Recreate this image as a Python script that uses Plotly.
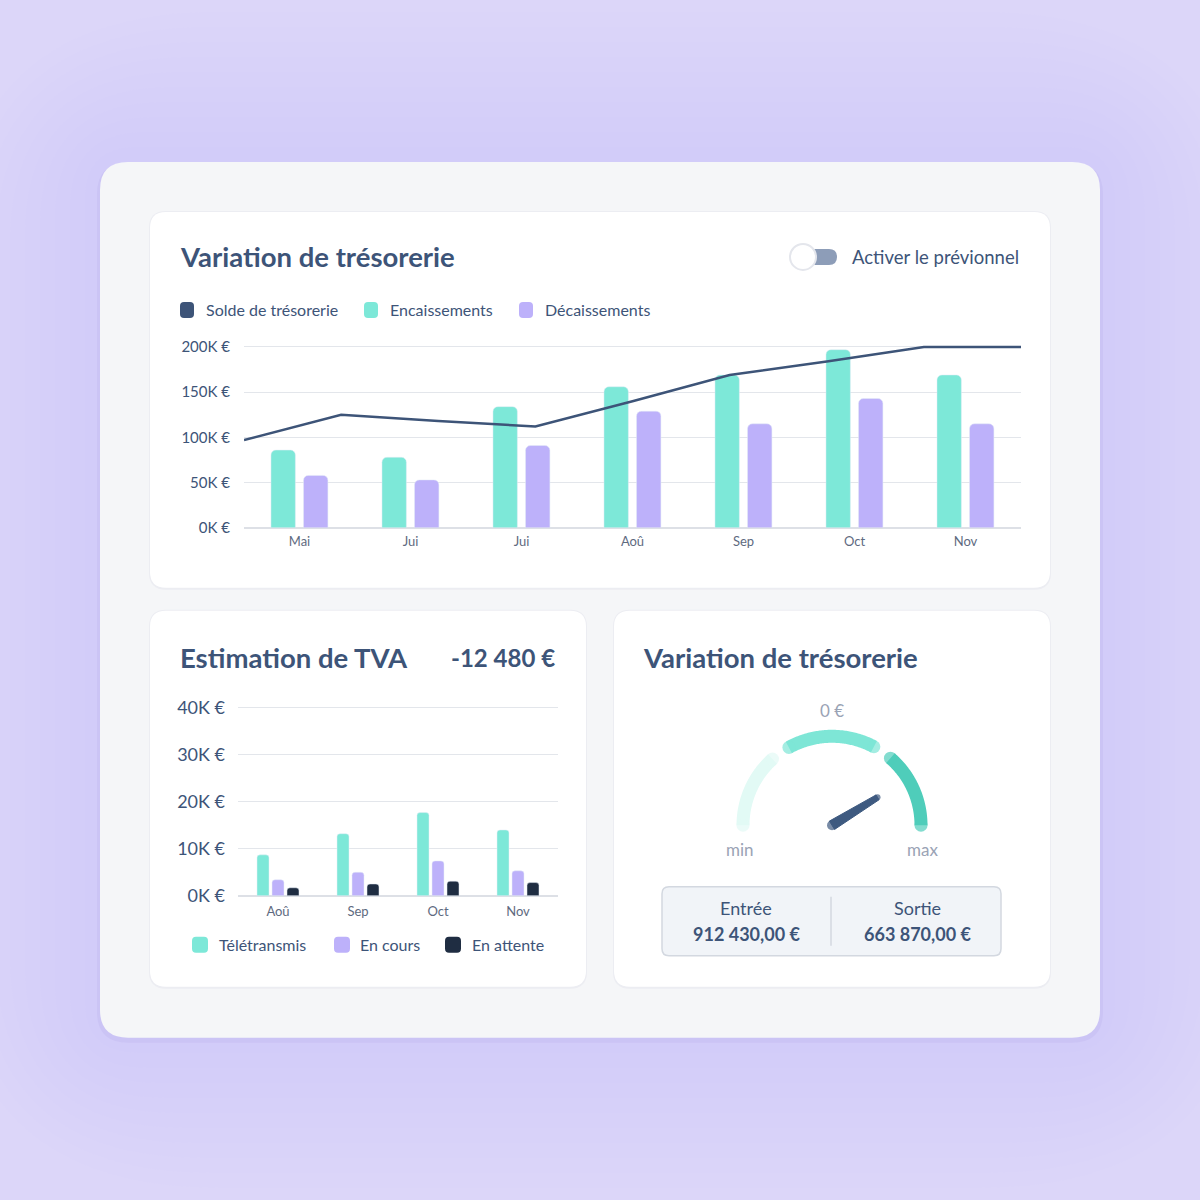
import plotly.graph_objects as go
import numpy as np

W = H = 1200

# ---------------- DATA ----------------
months1 = ["Mai", "Jui", "Jui", "Aoû", "Sep", "Oct", "Nov"]
encaissements = [86, 78, 134, 156, 169, 197, 169]      # K €
decaissements = [58, 53, 91, 129, 115, 143, 115]       # K €
solde = [97, 125, 118, 112, 140, 169, 184, 200, 200]   # K €, 9 points across the axis
y1_ticks = [0, 50, 100, 150, 200]
y1_labels = ["0K €", "50K €", "100K €", "150K €", "200K €"]

months2 = ["Aoû", "Sep", "Oct", "Nov"]
teletransmis = [8.7, 13.2, 17.7, 14.0]   # K €
en_cours = [3.4, 5.0, 7.4, 5.3]
en_attente = [1.7, 2.5, 3.1, 2.8]
y2_ticks = [0, 10, 20, 30, 40]
y2_labels = ["0K €", "10K €", "20K €", "30K €", "40K €"]

gauge_segments = [(0.0, 0.267), (0.339, 0.656), (0.728, 1.0)]  # fraction of min..max
gauge_value = 0.825
gauge_label = "0 €"
entree = "912 430,00 €"
sortie = "663 870,00 €"
tva_total = "-12 480 €"

# ---------------- STYLE ----------------
FONT = "Lato"
DARK = "#3D5478"
TEAL = "#7DE8D8"
PURPLE = "#BDB1FA"
NAVY = "#1F2D42"
GRID = "#E3E6EB"
GRAY = "#9AA3B5"

def X(x): return x / W
def Y(y): return 1 - ((y - 2) / 0.9903) / H

def rrect(x0, y0, x1, y1, r):
    return (f"M {X(x0+r)},{Y(y0)} L {X(x1-r)},{Y(y0)} Q {X(x1)},{Y(y0)} {X(x1)},{Y(y0+r)} "
            f"L {X(x1)},{Y(y1-r)} Q {X(x1)},{Y(y1)} {X(x1-r)},{Y(y1)} L {X(x0+r)},{Y(y1)} "
            f"Q {X(x0)},{Y(y1)} {X(x0)},{Y(y1-r)} L {X(x0)},{Y(y0+r)} Q {X(x0)},{Y(y0)} {X(x0+r)},{Y(y0)} Z")

shapes = []
def add_rr(x0, y0, x1, y1, r, fill, line=None, lw=0, layer="below"):
    shapes.append(dict(type="path", path=rrect(x0, y0, x1, y1, r), xref="paper", yref="paper",
                       fillcolor=fill, line=dict(color=line or fill, width=lw), layer=layer))

# soft background glow
for e in range(150, 0, -15):
    add_rr(100 - e, 162 - e, 1100 + e, 1038 + e, 28 + e * 1.6, "rgba(175,160,238,0.014)")
# outer panel shadow + panel
add_rr(97, 163, 1103, 1043, 31, "rgba(150,130,220,0.10)")
add_rr(100, 162, 1100, 1038, 28, "#F5F6F8")
# cards
for (x0, y0, x1, y1) in [(150, 212, 1050, 588), (150, 611, 586, 987), (614, 611, 1050, 987)]:
    add_rr(x0 - 1, y0 - 1, x1 + 1, y1 + 2, 17, "#ECEDF2")
    add_rr(x0, y0, x1, y1, 16, "#FFFFFF")

# toggle
add_rr(801, 249, 837, 265, 8, "#8D9DB8")
shapes.append(dict(type="circle", xref="paper", yref="paper", x0=X(789), x1=X(817), y0=Y(271), y1=Y(243),
                   fillcolor="#E4E6EC", line=dict(width=0), layer="below"))
shapes.append(dict(type="circle", xref="paper", yref="paper", x0=X(791), x1=X(815), y0=Y(269), y1=Y(245),
                   fillcolor="#FFFFFF", line=dict(width=0), layer="below"))

# legend squares chart 1
for cx, col in [(187, DARK), (371, TEAL), (526, PURPLE)]:
    add_rr(cx - 7, 302, cx + 7, 318, 4, col)
# legend squares chart 2
for cx, col in [(200, TEAL), (342, PURPLE), (453, NAVY)]:
    add_rr(cx - 8, 937, cx + 8, 953, 4, col)

# value box
add_rr(662, 887, 1001, 956, 7, "#F1F4F8", line="#D3D8E0", lw=1.5)
shapes.append(dict(type="line", xref="paper", yref="paper", x0=X(831), x1=X(831), y0=Y(897), y1=Y(946),
                   line=dict(color="#D3D8E0", width=1.5), layer="above"))

annotations = []
def txt(x, y, s, size, color=DARK, bold=False, xanchor="left"):
    annotations.append(dict(x=X(x), y=Y(y), xref="paper", yref="paper", text=(f"<b>{s}</b>" if bold else s),
                            showarrow=False, xanchor=xanchor, yanchor="middle",
                            font=dict(family=FONT, size=size, color=color)))

txt(178, 257, "Variation de trésorerie", 27.5, bold=True)
txt(850, 257, "Activer le prévionnel", 18.5)
txt(204, 310, "Solde de trésorerie", 16)
txt(388, 310, "Encaissements", 16)
txt(543, 310, "Décaissements", 16)

txt(178, 658, "Estimation de TVA", 27.5, bold=True)
txt(557, 658, tva_total, 24, bold=True, xanchor="right")
txt(217, 945, "Télétransmis", 16)
txt(358, 945, "En cours", 16)
txt(470, 945, "En attente", 16)

txt(641, 658, "Variation de trésorerie", 27.5, bold=True)
txt(832, 711, gauge_label, 17, color=GRAY, xanchor="center")
txt(740, 850, "min", 17, color=GRAY, xanchor="center")
txt(922, 850, "max", 17, color=GRAY, xanchor="center")
txt(746, 908, "Entrée", 18, xanchor="center")
txt(746, 934, entree, 18, bold=True, xanchor="center")
txt(917, 908, "Sortie", 18, xanchor="center")
txt(917, 934, sortie, 18, bold=True, xanchor="center")

fig = go.Figure()

# ---- chart 1 ----
x1pos = list(range(len(months1)))
fig.add_trace(go.Bar(x=x1pos, y=encaissements, width=0.22, offset=-0.257, marker=dict(color=TEAL, cornerradius=5),
                     xaxis="x", yaxis="y", name="Encaissements"))
fig.add_trace(go.Bar(x=x1pos, y=decaissements, width=0.22, offset=0.036, marker=dict(color=PURPLE, cornerradius=5),
                     xaxis="x", yaxis="y", name="Décaissements"))
fig.add_trace(go.Scatter(x=list(range(len(solde))), y=solde, mode="lines", line=dict(color=DARK, width=2.5),
                         xaxis="x3", yaxis="y", name="Solde", cliponaxis=False))

# ---- chart 2 ----
x2pos = list(range(len(months2)))
for vals, col, off in [(teletransmis, TEAL, -0.2625), (en_cours, PURPLE, -0.075), (en_attente, NAVY, 0.1125)]:
    fig.add_trace(go.Bar(x=x2pos, y=vals, width=0.15, offset=off, marker=dict(color=col, cornerradius=3),
                         xaxis="x2", yaxis="y2"))

# ---- gauge ----
def ang(f): return np.pi * (1 - f)
seg_colors = ["#E2FAF5", "#7EE6D6", "#4FCDBA"]
for (a, b), col in zip(gauge_segments, seg_colors):
    t = np.linspace(ang(a), ang(b), 80)
    sizes = [0] * len(t)
    sizes[0] = sizes[-1] = 13
    fig.add_trace(go.Scatter(x=np.cos(t), y=np.sin(t), mode="lines+markers",
                             line=dict(color=col, width=13, simplify=False),
                             marker=dict(size=sizes, color=col, line=dict(width=0)),
                             xaxis="x4", yaxis="y4", cliponaxis=False))
th = ang(gauge_value)
L = 0.6
wb, wt = 0.055, 0.032
ux, uy = np.cos(th), np.sin(th)
nx, ny = -uy, ux
poly_x = [nx * wb, L * ux + nx * wt, L * ux - nx * wt, -nx * wb, nx * wb]
poly_y = [ny * wb, L * uy + ny * wt, L * uy - ny * wt, -ny * wb, ny * wb]
fig.add_trace(go.Scatter(x=poly_x, y=poly_y, fill="toself", fillcolor="#3E5A80", mode="lines",
                         line=dict(color="#3E5A80", width=1), xaxis="x4", yaxis="y4"))
fig.add_trace(go.Scatter(x=[0, L * ux], y=[0, L * uy], mode="markers",
                         marker=dict(size=[10, 6], color="#3E5A80", line=dict(width=0)),
                         xaxis="x4", yaxis="y4", cliponaxis=False))

fig.update_layout(
    width=W, height=H, margin=dict(l=0, r=0, t=0, b=0),
    paper_bgcolor="#DCD6F9", plot_bgcolor="rgba(0,0,0,0)",
    showlegend=False, barmode="overlay", hovermode=False,
    shapes=shapes, annotations=annotations,
    xaxis=dict(domain=[X(244), X(1021)], range=[-0.5, 6.5], tickvals=x1pos, ticktext=months1,
               showgrid=False, zeroline=False, showline=False, ticks="",
               tickfont=dict(family=FONT, size=13, color="#5E6A80"), ticklabelstandoff=4, anchor="y"),
    yaxis=dict(domain=[Y(528), Y(338)], range=[0, 210], tickvals=y1_ticks, ticktext=y1_labels,
               showgrid=True, gridcolor=GRID, gridwidth=1, zeroline=True, zerolinecolor="#DDE0E6",
               zerolinewidth=1.5, showline=False, ticks="",
               tickfont=dict(family=FONT, size=15, color=DARK), ticklabelstandoff=13, anchor="x"),
    xaxis3=dict(domain=[X(244), X(1021)], range=[0, 8], overlaying="x", visible=False, anchor="y"),
    xaxis2=dict(domain=[X(238), X(558)], range=[-0.5, 3.5], tickvals=x2pos, ticktext=months2,
                showgrid=False, zeroline=False, showline=False, ticks="",
                tickfont=dict(family=FONT, size=13, color="#5E6A80"), ticklabelstandoff=6, anchor="y2"),
    yaxis2=dict(domain=[Y(896), Y(698.6)], range=[0, 42], tickvals=y2_ticks, ticktext=y2_labels,
                showgrid=True, gridcolor=GRID, gridwidth=1, zeroline=True, zerolinecolor="#DDE0E6",
                zerolinewidth=1.5, showline=False, ticks="", tickfont=dict(family=FONT, size=18, color=DARK),
                ticklabelstandoff=12, anchor="x2"),
    xaxis4=dict(domain=[X(698.5), X(965.5)], range=[-1.5, 1.5], visible=False, anchor="y4"),
    yaxis4=dict(domain=[Y(870), Y(709.8)], range=[-0.5, 1.3], visible=False, anchor="x4"),
)

fig.write_html("out.html", config={"displayModeBar": False})
